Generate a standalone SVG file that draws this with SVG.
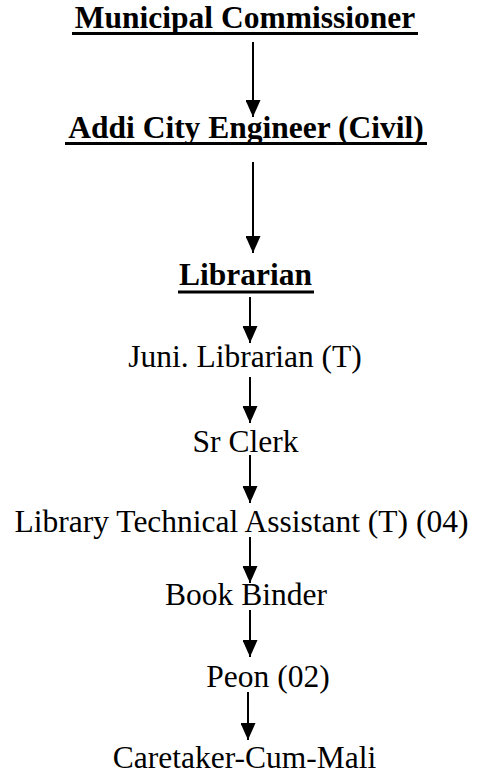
<svg xmlns="http://www.w3.org/2000/svg" width="480" height="781" viewBox="0 0 480 781">
<style>
.t{font-family:"Liberation Serif","Times New Roman",serif;font-size:31.5px;fill:#000;text-anchor:middle}
.b{font-weight:bold}
.u{stroke:#000;stroke-width:3}
.c{stroke:#000;stroke-width:2;fill:none;marker-end:url(#ah)}
</style>
<defs>
<marker id="ah" markerUnits="userSpaceOnUse" markerWidth="17" markerHeight="15" refX="17" refY="7.5" orient="auto">
<path d="M0,0 L17,7.5 L0,15 Z" fill="#000"/>
</marker>
</defs>
<rect width="480" height="781" fill="#fff"/>
<g id="connectors">
<line class="c" x1="253" y1="42" x2="253" y2="117"/>
<line class="c" x1="253" y1="162" x2="253" y2="253"/>
<line class="c" x1="250" y1="297" x2="250" y2="343"/>
<line class="c" x1="250" y1="377" x2="250" y2="423"/>
<line class="c" x1="250" y1="455" x2="250" y2="503"/>
<line class="c" x1="250" y1="537" x2="250" y2="583"/>
<line class="c" x1="250" y1="610" x2="250" y2="657"/>
<line class="c" x1="248" y1="692" x2="248" y2="740"/>
</g>
<g id="n1"><text class="t b" x="245" y="28">Municipal Commissioner</text><line class="u" x1="72" y1="33.5" x2="418" y2="33.5"/></g>
<g id="n2"><text class="t b" x="246" y="138">Addi City Engineer (Civil)</text><line class="u" x1="65" y1="143.5" x2="427" y2="143.5"/></g>
<g id="n3"><text class="t b" x="245.5" y="285">Librarian</text><line class="u" x1="178" y1="292" x2="314" y2="292"/></g>
<g id="n4"><text class="t" x="245" y="367">Juni. Librarian (T)</text></g>
<g id="n5"><text class="t" x="245.5" y="452">Sr Clerk</text></g>
<g id="n6"><text class="t" x="241.5" y="532">Library Technical Assistant (T) (04)</text></g>
<g id="n7"><text class="t" x="246" y="605">Book Binder</text></g>
<g id="n8"><text class="t" x="268" y="687">Peon (02)</text></g>
<g id="n9"><text class="t" x="244.5" y="768">Caretaker-Cum-Mali</text></g>
</svg>
